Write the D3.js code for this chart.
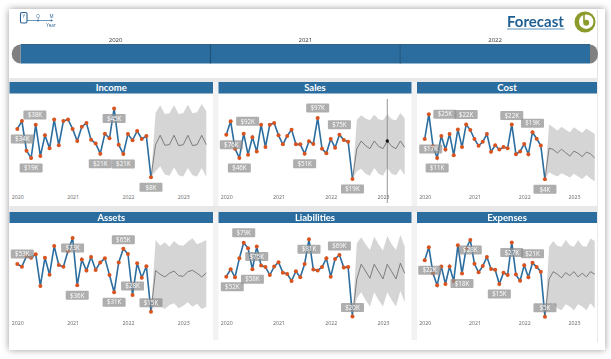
<!DOCTYPE html>
<html>
<head>
<meta charset="utf-8">
<script src="https://d3js.org/d3.v7.min.js"></script>
<style>
  html, body { margin: 0; padding: 0; background: #fff; }
  svg { display: block; filter: blur(0.35px); }
  text { font-family: "Open Sans", sans-serif; }
</style>
</head>
<body>
<svg id="chart" width="611" height="359"></svg>
<script>
// values in $K
const sliderYears = ["2020", "2021", "2022"];
const yearTicks = [0, 12, 24, 36];
const yearLabels = ["2020", "2021", "2022", "2023"];

const incomeValues = [34.4, 38.7, 22.5, 18.5, 36.7, 19.6, 30.9, 23.8, 39.5, 25.5, 38.7, 39.6, 34.4, 27.8, 35.6, 37.6, 28.5, 26.5, 20.9, 31.8, 29.3, 45.6, 25.8, 20.7, 31.6, 28.2, 33.3, 28.9, 30.5, 8];
const incomeForecast = [25.8, 30.9, 25.5, 25.8, 30.9, 25.3, 25.8, 30.9, 25.3, 25.8, 30.9, 25.8];
const incomeUpper = [43.1, 47.3, 42.5, 42.9, 47.3, 42.5, 43.1, 47.6, 42.9, 43.5, 48, 44];
const incomeLower = [11.3, 14, 9.5, 8.9, 13.5, 9.1, 8.5, 13.1, 9.1, 8.5, 13.1, 8.2];
const incomeLabelIdx = [0, 1, 3, 18, 21, 23, 29];
const incomeLabels = ["$34K", "$38K", "$19K", "$21K", "$45K", "$21K", "$8K"];

const salesValues = [75.7, 92.7, 57.8, 45.9, 77, 50.1, 72.3, 54, 88.5, 59.9, 88.5, 90.6, 74.8, 63.3, 74, 82.1, 63.3, 63.3, 51.4, 67.2, 63.8, 97, 57.8, 51.8, 70.2, 59.1, 75.7, 68.9, 66.7, 19];
const salesForecast = [57.8, 67.6, 61.6, 57.8, 67.6, 60.8, 57.8, 67.6, 60.8, 57.8, 67.6, 59.5];
const salesUpper = [94.9, 100.4, 96.2, 94, 101.3, 95.3, 94, 102.1, 95.3, 94, 103.4, 96.2];
const salesLower = [28.8, 32.2, 25.8, 23.3, 33.1, 25.8, 23.3, 33.1, 25.8, 23.7, 32.2, 23.7];
const salesLabelIdx = [0, 1, 3, 18, 21, 26, 29];
const salesLabels = ["$76K", "$92K", "$46K", "$51K", "$97K", "$75K", "$19K"];

const costValues = [17, 25, 14.7, 10.9, 18, 13.6, 18.6, 11.8, 20.1, 14.4, 21.7, 19.9, 17, 14.8, 16.1, 18.6, 12.9, 15, 13.6, 14.4, 14, 21.7, 12.1, 13, 15.4, 12.1, 19.2, 17.1, 14.9, 4];
const costForecast = [14.1, 13.6, 12.5, 13.7, 12.6, 11.5, 13.1, 12.4, 11.3, 12.8, 12.2, 10.9];
const costUpper = [21.7, 20.8, 19.7, 21, 20, 19.2, 20.8, 19.8, 19, 20.4, 19.5, 18.6];
const costLower = [6.3, 5.5, 4.9, 6, 5.3, 4.6, 5.8, 4.9, 4.1, 5.4, 4.3, 3.4];
const costLabelIdx = [0, 1, 3, 10, 21, 26, 29];
const costLabels = ["$17K", "$25K", "$11K", "$22K", "$22K", "$19K", "$4K"];

const assetsValues = [52.6, 50.5, 58.9, 57.6, 60.3, 35.3, 57.6, 44.2, 66.8, 51.8, 50.5, 62.9, 73.2, 35.8, 56.1, 47.4, 58.2, 47.9, 53.9, 57.1, 43.9, 30.3, 53.9, 64.7, 60.5, 28.2, 53.2, 41.8, 50.8, 15];
const assetsForecast = [47.4, 44.5, 42.4, 45.3, 47.1, 43.4, 42.9, 46.6, 47.6, 45.3, 42.4, 45.5];
const assetsUpper = [71.6, 67.1, 69.7, 66.3, 70.8, 67.6, 67.1, 70.3, 72.9, 68.2, 69.7, 71.6];
const assetsLower = [21.6, 19.5, 17.1, 20.3, 21.6, 17.6, 19.7, 22.4, 18.9, 21.3, 17.1, 18.9];
const assetsLabelIdx = [0, 12, 13, 21, 23, 25, 29];
const assetsLabels = ["$53K", "$73K", "$36K", "$31K", "$65K", "$28K", "$15K"];

const liabilitiesValues = [51.9, 57.8, 51.4, 66.5, 79, 74.5, 57.8, 75.9, 60.7, 59.6, 53.2, 59.9, 63.4, 55.1, 54, 48.5, 56.2, 51.4, 62, 81.7, 57.5, 56.7, 59.6, 66.5, 51.9, 66, 69.2, 59.1, 59.6, 20];
const liabilitiesForecast = [50.1, 61.8, 56.4, 50.6, 61.8, 55.9, 50.1, 61.8, 55.9, 50.1, 62.6, 54.6];
const liabilitiesUpper = [78.5, 83.3, 77.7, 73.2, 83.8, 77.7, 72.7, 84.4, 77.7, 73.2, 85.2, 75.9];
const liabilitiesLower = [34.6, 39.4, 33.3, 28, 39.4, 33.3, 28, 39.4, 33.3, 28, 40.5, 31.4];
const liabilitiesLabelIdx = [0, 4, 6, 7, 19, 26, 29];
const liabilitiesLabels = ["$52K", "$79K", "$58K", "$75K", "$81K", "$69K", "$20K"];

const expensesValues = [22.3, 26.3, 18.3, 14.6, 20.4, 15, 20.4, 15.9, 26.9, 18.2, 25.9, 28.5, 21.2, 18.6, 20.5, 23.3, 19.6, 19.4, 15, 18.5, 17.8, 27.7, 17.9, 16, 20.8, 17.1, 21.5, 20.2, 18.8, 5];
const expensesForecast = [16.5, 18.8, 18, 16.9, 18.5, 17.6, 18.8, 17.2, 18.3, 17.2, 18.8, 18];
const expensesUpper = [26.4, 28.2, 26.7, 26.4, 28.5, 26.9, 26.4, 28.5, 26.7, 26.4, 29, 28.2];
const expensesLower = [8.6, 9.1, 7.6, 7, 8.8, 8.1, 7, 8.8, 8.1, 7, 9.1, 7.6];
const expensesLabelIdx = [0, 9, 11, 18, 21, 26, 29];
const expensesLabels = ["$22K", "$18K", "$28K", "$15K", "$27K", "$21K", "$5K"];

(function () {

    let canvas = d3.select("#chart");

    let blue = "#2b6d9e";
    let orange = "#d9531e";

    // box centre relative to its point, one per label
    let labelOffsets = {
        Income: [[5, 10], [13, -6], [0, 10], [0, 10], [0, 10], [0, 10], [0, 10]],
        Sales: [[5, 10], [17, 0], [0, 10], [0, 10], [0, -10], [0, -10], [0, 10]],
        Cost: [[6, 10], [16, 0], [0, 10], [0, -10], [0, -9], [0, -9], [0, 10]],
        Assets: [[5, -10], [0, 10], [0, 10], [0, 10], [0, -9], [0, -9], [0, -9]],
        Liabilities: [[6, 10], [0, -10], [0, 10], [0, 10], [0, 10], [0, -9], [0, -9]],
        Expenses: [[5, 10], [0, 10], [0, 10], [0, 10], [0, 10], [0, -9], [0, -9]]
    };

    let columns = [
        { x0: 9.5, x1: 213, left: 17.3, right: 206.3 },
        { x0: 218.5, x1: 411.5, left: 226.3, right: 404.7 },
        { x0: 417, x1: 597, left: 424.7, right: 594.7 }
    ];
    let rows = [
        { y0: 82, y1: 93.5, bottom: 206, top: 95, base: 190, tickY: 198 },
        { y0: 212, y1: 223, bottom: 340, top: 225, base: 320, tickY: 324 }
    ];

    let panels = [
        { name: "Income", col: 0, row: 0, domain: [1.09, 52.9], values: incomeValues, forecast: incomeForecast, upper: incomeUpper, lower: incomeLower, labelIdx: incomeLabelIdx, labels: incomeLabels },
        { name: "Sales", col: 1, row: 0, domain: [4.93, 126.4], values: salesValues, forecast: salesForecast, upper: salesUpper, lower: salesLower, labelIdx: salesLabelIdx, labels: salesLabels, hover: 37 },
        { name: "Cost", col: 2, row: 0, domain: [0.56, 31.2], values: costValues, forecast: costForecast, upper: costUpper, lower: costLower, labelIdx: costLabelIdx, labels: costLabels },
        { name: "Assets", col: 0, row: 1, domain: [8.42, 83.4], values: assetsValues, forecast: assetsForecast, upper: assetsUpper, lower: assetsLower, labelIdx: assetsLabelIdx, labels: assetsLabels },
        { name: "Liabilities", col: 1, row: 1, domain: [17.3, 93.1], values: liabilitiesValues, forecast: liabilitiesForecast, upper: liabilitiesUpper, lower: liabilitiesLower, labelIdx: liabilitiesLabelIdx, labels: liabilitiesLabels },
        { name: "Expenses", col: 2, row: 1, domain: [3.98, 33.1], values: expensesValues, forecast: expensesForecast, upper: expensesUpper, lower: expensesLower, labelIdx: expensesLabelIdx, labels: expensesLabels }
    ];

    function drawFrame() {
        let defs = canvas.append("defs");
        let shadow = defs.append("filter").attr("id", "shadow")
            .attr("x", "-5%").attr("y", "-5%").attr("width", "110%").attr("height", "110%");
        shadow.append("feDropShadow")
            .attr("dx", 0).attr("dy", 0)
            .attr("stdDeviation", 3.5)
            .attr("flood-color", "#000")
            .attr("flood-opacity", 0.4);

        canvas.append("rect")
            .attr("x", 9).attr("y", 9)
            .attr("width", 596).attr("height", 341)
            .attr("fill", "#fff")
            .attr("filter", "url(#shadow)");

        canvas.append("line")
            .attr("x1", 597.5).attr("x2", 597.5)
            .attr("y1", 10).attr("y2", 342)
            .attr("stroke", "#e2e2e2");

        // grey gutters behind the panels
        canvas.append("rect")
            .attr("x", 9.5).attr("y", 78)
            .attr("width", 588).attr("height", 262)
            .attr("fill", "#f2f2f2");
        canvas.append("rect")
            .attr("x", 9.5).attr("y", 78)
            .attr("width", 588).attr("height", 4)
            .attr("fill", "#e8e8e8");
        canvas.append("rect")
            .attr("x", 9.5).attr("y", 206)
            .attr("width", 588).attr("height", 6)
            .attr("fill", "#e8e8e8");
    }

    function drawSlicer() {
        let g = canvas.append("g").attr("class", "slicer");

        let xScale = d3.scaleBand()
            .domain(sliderYears)
            .range([20.7, 590]);

        let barTop = 44.5;
        let barBottom = 63.5;
        let r = (barBottom - barTop) / 2;

        g.append("path")
            .attr("fill", "#808080")
            .attr("d", `M20.7,${barTop} A9,${r} 0 0 0 20.7,${barBottom} Z`);
        g.append("path")
            .attr("fill", "#808080")
            .attr("d", `M590,${barTop} A8,${r} 0 0 1 590,${barBottom} Z`);

        g.selectAll("rect.year")
            .data(sliderYears)
            .enter()
            .append("rect")
            .attr("class", "year")
            .attr("x", d => xScale(d))
            .attr("y", barTop)
            .attr("width", xScale.bandwidth())
            .attr("height", barBottom - barTop)
            .attr("fill", blue);

        g.selectAll("line.divider")
            .data(sliderYears.slice(1))
            .enter()
            .append("line")
            .attr("class", "divider")
            .attr("x1", d => xScale(d))
            .attr("x2", d => xScale(d))
            .attr("y1", barTop)
            .attr("y2", barBottom)
            .attr("stroke", "#1d4f75");

        g.append("line")
            .attr("x1", 20.7).attr("x2", 590)
            .attr("y1", barTop).attr("y2", barTop)
            .attr("stroke", "#1d4f75")
            .attr("stroke-width", 0.8);

        g.selectAll("text")
            .data(sliderYears)
            .enter()
            .append("text")
            .attr("x", d => xScale(d) + xScale.bandwidth() / 2)
            .attr("y", 42)
            .attr("text-anchor", "middle")
            .attr("font-size", 6)
            .attr("fill", "#333")
            .text(d => d);

        // drill level selector in the corner
        let level = canvas.append("g").attr("class", "level");
        level.append("line")
            .attr("x1", 27).attr("x2", 51.5)
            .attr("y1", 20.5).attr("y2", 20.5)
            .attr("stroke", blue)
            .attr("stroke-width", 0.7);
        level.append("rect")
            .attr("x", 20.5).attr("y", 12.5)
            .attr("width", 6.5).attr("height", 10.5)
            .attr("rx", 1.5)
            .attr("fill", "#fff")
            .attr("stroke", "#2b5f94")
            .attr("stroke-width", 1.1);
        level.selectAll("circle")
            .data([38, 51.5])
            .enter()
            .append("circle")
            .attr("cx", d => d).attr("cy", 20.5).attr("r", 1)
            .attr("fill", blue);
        level.selectAll("text")
            .data([["Y", 23.8, 18], ["Q", 38, 17.5], ["M", 51.5, 17.5], ["Year", 51, 27]])
            .enter()
            .append("text")
            .attr("x", d => d[1])
            .attr("y", d => d[2])
            .attr("text-anchor", "middle")
            .attr("font-size", 4.5)
            .attr("fill", "#2b5f94")
            .text(d => d[0]);
    }

    function drawTitle() {
        canvas.append("text")
            .attr("x", 507)
            .attr("y", 27)
            .attr("font-size", 15)
            .attr("font-weight", "bold")
            .attr("fill", "#1f5f92")
            .style("font-family", "Lato, sans-serif")
            .text("Forecast");
        canvas.append("line")
            .attr("x1", 507).attr("x2", 564.5)
            .attr("y1", 29).attr("y2", 29)
            .attr("stroke", "#5c93bd")
            .attr("stroke-width", 1);

        // logo
        let logo = canvas.append("g").attr("transform", "translate(585, 22)");
        logo.append("circle").attr("r", 10.5).attr("fill", "#8b9a2b");
        logo.append("circle").attr("cx", 1.2).attr("cy", -0.3).attr("r", 7.2).attr("fill", "#fff");
        logo.append("circle").attr("cx", 1.2).attr("cy", 0.8).attr("r", 3).attr("fill", "#8b9a2b");
        logo.append("path").attr("d", "M-1.8,-9 L-0.2,-9 L-0.2,0 L-1.8,0 Z").attr("fill", "#8b9a2b");
    }

    function drawPanel(panel) {
        let col = columns[panel.col];
        let row = rows[panel.row];
        let g = canvas.append("g").attr("class", "panel");

        g.append("rect")
            .attr("x", col.x0).attr("y", row.y0)
            .attr("width", col.x1 - col.x0).attr("height", row.bottom - row.y0)
            .attr("fill", "#fff");

        g.append("rect")
            .attr("x", col.x0).attr("y", row.y0)
            .attr("width", col.x1 - col.x0).attr("height", row.y1 - row.y0)
            .attr("fill", blue);

        g.append("text")
            .attr("x", (col.x0 + col.x1) / 2)
            .attr("y", row.y1 - 2.5)
            .attr("text-anchor", "middle")
            .attr("font-size", 9.5)
            .attr("font-weight", "bold")
            .attr("fill", "#fff")
            .style("font-family", "Lato, sans-serif")
            .text(panel.name);

        let xScale = d3.scaleLinear()
            .domain([0, 41])
            .range([col.left, col.right]);

        let yScale = d3.scaleLinear()
            .domain(panel.domain)
            .range([row.base, row.top]);

        let last = panel.values.length - 1;
        let start = panel.values[last];

        // forecast joins the last actual point
        let band = [{ i: last, hi: start, lo: start }].concat(panel.upper.map((d, k) => {
            return { i: last + 1 + k, hi: d, lo: panel.lower[k] };
        }));
        let area = d3.area()
            .x(d => xScale(d.i))
            .y0(d => yScale(d.lo))
            .y1(d => yScale(d.hi));

        g.append("path")
            .attr("d", area(band))
            .attr("fill", "#d5d5d5");

        let forecastLine = d3.line()
            .x((d, k) => xScale(last + k))
            .y(d => yScale(d));

        g.append("path")
            .attr("d", forecastLine([start].concat(panel.forecast)))
            .attr("fill", "none")
            .attr("stroke", "#666")
            .attr("stroke-width", 0.8);

        let line = d3.line()
            .x((d, k) => xScale(k))
            .y(d => yScale(d));

        g.append("path")
            .attr("d", line(panel.values))
            .attr("fill", "none")
            .attr("stroke", blue)
            .attr("stroke-width", 1.6);

        g.selectAll("circle.point")
            .data(panel.values)
            .enter()
            .append("circle")
            .attr("class", "point")
            .attr("cx", (d, k) => xScale(k))
            .attr("cy", d => yScale(d))
            .attr("r", 2)
            .attr("fill", orange);

        if (panel.hover !== undefined) {
            let hx = xScale(panel.hover);
            g.append("line")
                .attr("x1", hx).attr("x2", hx)
                .attr("y1", row.y0 + 17).attr("y2", row.base + 13)
                .attr("stroke", "#8a8a8a")
                .attr("stroke-width", 0.9);
            g.append("circle")
                .attr("cx", hx)
                .attr("cy", yScale(panel.forecast[panel.hover - last - 1]))
                .attr("r", 1.7)
                .attr("fill", "#111");
        }

        // data labels
        let offsets = labelOffsets[panel.name];
        let labels = g.selectAll("g.label")
            .data(panel.labelIdx)
            .enter()
            .append("g")
            .attr("class", "label")
            .attr("transform", (d, k) => {
                let px = xScale(d) + offsets[k][0];
                let py = yScale(panel.values[d]) + offsets[k][1];
                return `translate(${px}, ${py})`;
            });

        labels.append("rect")
            .attr("x", -11.5).attr("y", -4.5)
            .attr("width", 23).attr("height", 9)
            .attr("rx", 1)
            .attr("fill", "#8f8f8f")
            .attr("fill-opacity", 0.72);

        labels.append("text")
            .attr("y", 2.2)
            .attr("text-anchor", "middle")
            .attr("font-size", 6.2)
            .attr("fill", "#fff")
            .text((d, k) => panel.labels[k]);

        // year axis
        let xAxis = d3.axisBottom(xScale)
            .tickValues(yearTicks)
            .tickFormat((d, k) => yearLabels[k])
            .tickSize(0)
            .tickPadding(0);

        let axis = g.append("g")
            .attr("class", "x-axis")
            .attr("transform", `translate(0, ${row.tickY - 2.5})`)
            .call(xAxis);
        axis.select(".domain").remove();
        axis.selectAll("text")
            .attr("font-size", 5.2)
            .attr("fill", "#666")
            .style("font-family", "\"Open Sans\", sans-serif");
    }

    drawFrame();
    drawSlicer();
    drawTitle();
    panels.forEach(drawPanel);

})();
</script>
</body>
</html>
